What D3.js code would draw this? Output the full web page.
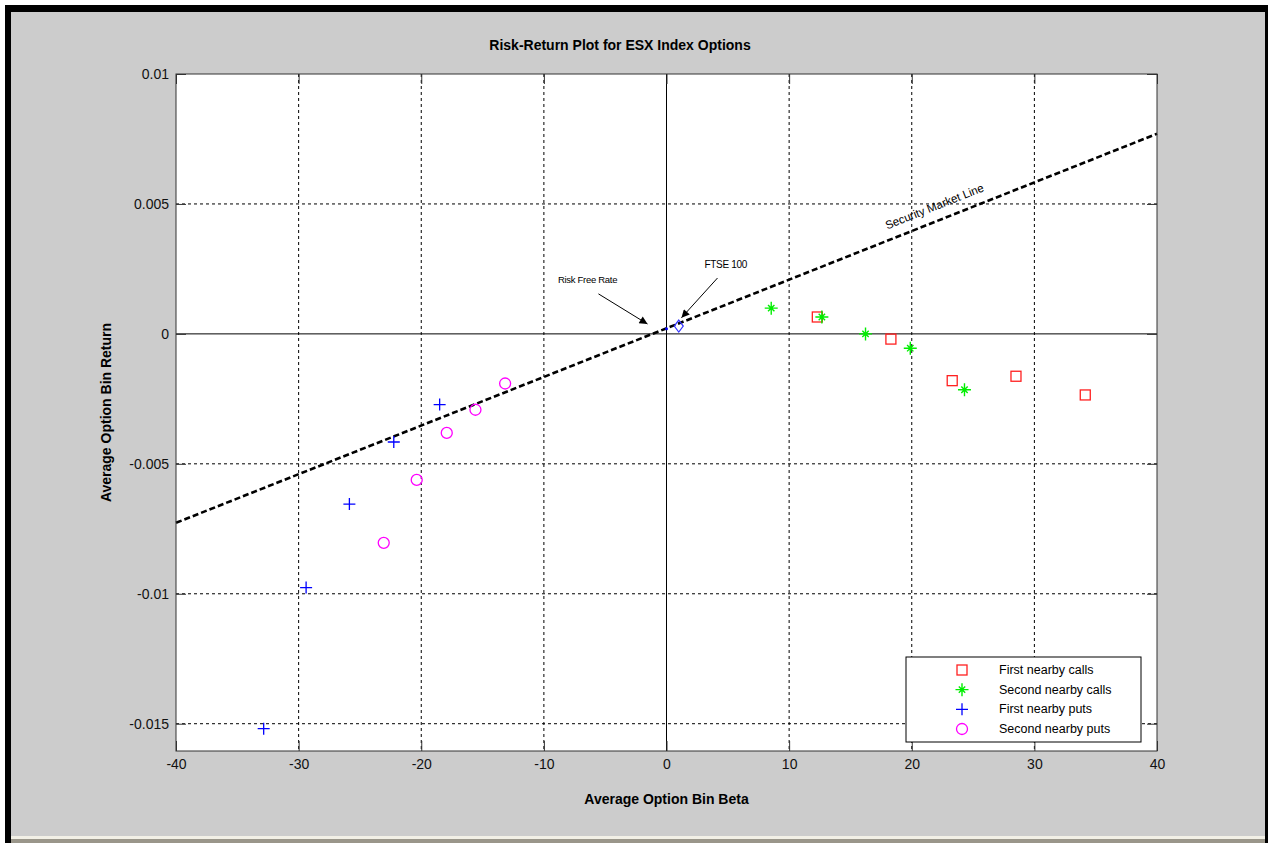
<!DOCTYPE html>
<html><head><meta charset="utf-8">
<script src="https://cdn.jsdelivr.net/npm/d3@7"></script>
<style>body{margin:0;background:#fff}svg{display:block}text{font-family:"Liberation Sans",Arial,sans-serif}</style>
</head><body>
<svg id="c" width="1268" height="843"></svg>
<script>
// ---- data ----
const firstCalls  = [[12.3,0.00065],[18.3,-0.0002],[23.3,-0.0018],[28.5,-0.00163],[34.15,-0.00235]];
const secondCalls = [[8.54,0.00099],[12.67,0.00065],[16.23,0.0],[19.88,-0.00055],[24.3,-0.00215]];
const firstPuts   = [[-18.5,-0.00272],[-22.24,-0.00416],[-25.86,-0.00655],[-29.39,-0.00976],[-32.85,-0.01519]];
const secondPuts  = [[-13.16,-0.00191],[-15.58,-0.00292],[-17.92,-0.00381],[-20.37,-0.00562],[-23.06,-0.00804]];
const ftse = [[1.0,0.0003]];
const riskFree = [[0.0,0.0002]];
const smlLine = [[-40,-0.00727],[40,0.0077]];
const xTicks = [-40,-30,-20,-10,0,10,20,30,40];
const xTickLabels = ["-40","-30","-20","-10","0","10","20","30","40"];
const yTicks = [0.01,0.005,0,-0.005,-0.01,-0.015];
const yTickLabels = ["0.01","0.005","0","-0.005","-0.01","-0.015"];
const legendLabels = ["First nearby calls","Second nearby calls","First nearby puts","Second nearby puts"];

const svg = d3.select("#c");
// frame
svg.append("rect").attr("x",5).attr("y",5).attr("width",1263).attr("height",838).attr("fill","#000");
svg.append("rect").attr("x",11).attr("y",12).attr("width",1254).attr("height",824).attr("fill","#cccccc");
svg.append("rect").attr("x",11).attr("y",836).attr("width",1254).attr("height",3).attr("fill","#f2f0e6");
svg.append("rect").attr("x",11).attr("y",839).attr("width",1254).attr("height",4).attr("fill","#9a968a");

const L=176,R=1157,T=74,B=751;
const x = d3.scaleLinear().domain([-40,40]).range([L,R]);
const y = d3.scaleLinear().domain([-0.01605,0.01]).range([B,T]);

svg.append("rect").attr("x",L).attr("y",T).attr("width",R-L).attr("height",B-T).attr("fill","#fff");

const g = svg.append("g");
// grid
g.selectAll(".gx").data(xTicks.filter(d=>d>-40&&d<40&&d!==0)).enter().append("line")
  .attr("x1",d=>x(d)).attr("x2",d=>x(d)).attr("y1",T).attr("y2",B)
  .attr("stroke","#000").attr("stroke-dasharray","3,3").attr("stroke-width",1);
g.selectAll(".gy").data(yTicks.filter(d=>d<0.01&&d!==0)).enter().append("line")
  .attr("y1",d=>y(d)).attr("y2",d=>y(d)).attr("x1",L).attr("x2",R)
  .attr("stroke","#000").attr("stroke-dasharray","3,3").attr("stroke-width",1);
// zero lines
g.append("line").attr("x1",x(0)).attr("x2",x(0)).attr("y1",T).attr("y2",B).attr("stroke","#000");
g.append("line").attr("x1",L).attr("x2",R).attr("y1",y(0)).attr("y2",y(0)).attr("stroke","#000");

// axes
const ax = d3.axisBottom(x).tickValues(xTicks).tickSize(-10).tickPadding(8).tickFormat((d,i)=>xTickLabels[i]);
const axT = d3.axisTop(x).tickValues(xTicks).tickSize(-10).tickFormat("");
const ay = d3.axisLeft(y).tickValues(yTicks).tickSize(-10).tickPadding(7).tickFormat((d,i)=>yTickLabels[i]);
const ayR = d3.axisRight(y).tickValues(yTicks).tickSize(-10).tickFormat("");
function style(sel){sel.select(".domain").remove();sel.selectAll("line").attr("stroke","#333");sel.selectAll("text").attr("font-size",14).attr("fill","#111").attr("font-family","'Liberation Sans',Arial,sans-serif");}
svg.append("g").attr("transform",`translate(0,${B})`).call(ax).call(style);
svg.append("g").attr("transform",`translate(0,${T})`).call(axT).call(style);
svg.append("g").attr("transform",`translate(${L},0)`).call(ay).call(style);
svg.append("g").attr("transform",`translate(${R},0)`).call(ayR).call(style);
svg.append("rect").attr("x",L).attr("y",T).attr("width",R-L).attr("height",B-T).attr("fill","none").attr("stroke","#333");

// SML
const line = d3.line().x(d=>x(d[0])).y(d=>y(d[1]));
g.append("path").datum(smlLine).attr("d",line).attr("fill","none").attr("stroke","#000")
  .attr("stroke-width",2.6).attr("stroke-dasharray","6,3");

// markers
const pts = svg.append("g");
pts.selectAll(".sq").data(firstCalls).enter().append("rect")
  .attr("x",d=>x(d[0])-5).attr("y",d=>y(d[1])-5).attr("width",10).attr("height",10)
  .attr("fill","none").attr("stroke","#ff2020").attr("stroke-width",1.3);
function star(sel,c){
  const s=6.5, t=3.2;
  sel.append("path").attr("d",`M${-s},0H${s}M0,${-s}V${s}M${-t},${-t}L${t},${t}M${-t},${t}L${t},${-t}`)
    .attr("stroke",c).attr("stroke-width",1.4).attr("fill","none");
}
pts.selectAll(".st").data(secondCalls).enter().append("g")
  .attr("transform",d=>`translate(${x(d[0])},${y(d[1])})`).each(function(){star(d3.select(this),"#00ee00");});
pts.selectAll(".pl").data(firstPuts).enter().append("path")
  .attr("transform",d=>`translate(${x(d[0])},${y(d[1])})`)
  .attr("d","M-6,0H6M0,-6V6").attr("stroke","#0000ff").attr("stroke-width",1.3);
pts.selectAll(".ci").data(secondPuts).enter().append("circle")
  .attr("cx",d=>x(d[0])).attr("cy",d=>y(d[1])).attr("r",5.5)
  .attr("fill","none").attr("stroke","#ff00ff").attr("stroke-width",1.3);
pts.selectAll(".dm").data(ftse).enter().append("path")
  .attr("transform",d=>`translate(${x(d[0])},${y(d[1])})`)
  .attr("d","M0,-6L4.5,0L0,6L-4.5,0Z").attr("fill","none").attr("stroke","#3333ff").attr("stroke-width",1.2);
pts.selectAll(".rf").data(riskFree).enter().append("circle")
  .attr("cx",d=>x(d[0])).attr("cy",d=>y(d[1])).attr("r",1.5).attr("fill","#0000ff");

// annotations
const defs = svg.append("defs");
defs.append("marker").attr("id","ah").attr("viewBox","0 0 10 10").attr("refX",10).attr("refY",5)
  .attr("markerWidth",10).attr("markerHeight",8).attr("markerUnits","userSpaceOnUse").attr("orient","auto")
  .append("path").attr("d","M0,0L10,5L0,10Z").attr("fill","#000");
const arrows = [[[-5.55,0.00154],[-1.55,0.00038]],[[4.16,0.00215],[1.22,0.00062]]];
svg.selectAll(".ar").data(arrows).enter().append("line")
  .attr("x1",d=>x(d[0][0])).attr("y1",d=>y(d[0][1])).attr("x2",d=>x(d[1][0])).attr("y2",d=>y(d[1][1]))
  .attr("stroke","#000").attr("stroke-width",1).attr("marker-end","url(#ah)");
svg.append("text").attr("x",x(-8.85)).attr("y",y(0.00197)).attr("font-size",9.5).attr("letter-spacing",-0.3).text("Risk Free Rate");
svg.append("text").attr("x",x(3.1)).attr("y",y(0.00252)).attr("font-size",10).attr("letter-spacing",-0.3).text("FTSE 100");
const ang = Math.atan2(y(smlLine[1][1])-y(smlLine[0][1]), x(smlLine[1][0])-x(smlLine[0][0]))*180/Math.PI;
svg.append("text").attr("transform",`translate(${x(18.0)},${y(0.00402)}) rotate(${ang})`)
  .attr("font-size",11.5).text("Security Market Line");

// titles
svg.append("text").attr("x",620).attr("y",50).attr("text-anchor","middle").attr("font-size",14).attr("font-weight","bold").text("Risk-Return Plot for ESX Index Options");
svg.append("text").attr("x",(L+R)/2).attr("y",804).attr("text-anchor","middle").attr("font-size",14).attr("font-weight","bold").text("Average Option Bin Beta");
svg.append("text").attr("transform",`translate(111,${(T+B)/2}) rotate(-90)`).attr("text-anchor","middle").attr("font-size",14).attr("font-weight","bold").text("Average Option Bin Return");

// legend
const lg = svg.append("g");
lg.append("rect").attr("x",906).attr("y",657).attr("width",235).attr("height",85).attr("fill","#fff").attr("stroke","#000");
const ly = d3.scalePoint().domain(legendLabels).range([670,729]);
const lx = 962;
lg.append("rect").attr("x",lx-5).attr("y",ly(legendLabels[0])-5).attr("width",10).attr("height",10).attr("fill","none").attr("stroke","#ff2020").attr("stroke-width",1.3);
star(lg.append("g").attr("transform",`translate(${lx},${ly(legendLabels[1])})`),"#00ee00");
lg.append("path").attr("transform",`translate(${lx},${ly(legendLabels[2])})`).attr("d","M-6,0H6M0,-6V6").attr("stroke","#0000ff").attr("stroke-width",1.3);
lg.append("circle").attr("cx",lx).attr("cy",ly(legendLabels[3])).attr("r",5.5).attr("fill","none").attr("stroke","#ff00ff").attr("stroke-width",1.3);
lg.selectAll(".lt").data(legendLabels).enter().append("text").attr("x",999).attr("y",d=>ly(d)+4).attr("font-size",12.5).text(d=>d);
</script>
</body></html>
